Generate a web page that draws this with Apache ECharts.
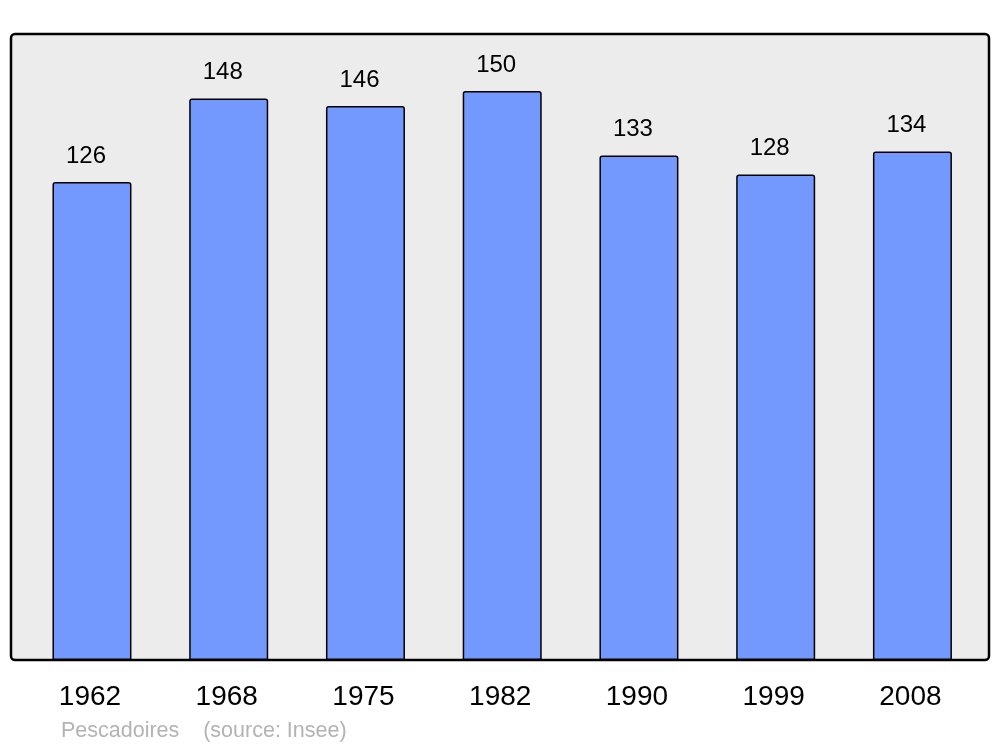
<!DOCTYPE html>
<html>
<head>
<meta charset="utf-8">
<script src="https://cdn.jsdelivr.net/npm/echarts@6/dist/echarts.min.js"></script>
<style>
html,body{margin:0;padding:0;background:#fff;}
#chart{width:1000px;height:747px;}
</style>
</head>
<body>
<div id="chart"></div>
<script>
const categories = ['1962', '1968', '1975', '1982', '1990', '1999', '2008'];
const population = [126, 148, 146, 150, 133, 128, 134];
const footerText = 'Pescadoires    (source: Insee)';

const chart = echarts.init(document.getElementById('chart'));
const FONT = '"Liberation Sans", Arial, sans-serif';

chart.setOption({
  animation: false,
  backgroundColor: '#ffffff',
  title: {
    text: footerText,
    left: 61,
    top: 720,
    padding: 0,
    textStyle: { fontFamily: FONT, fontSize: 21.5, fontWeight: 'normal', color: '#b3b3b3' }
  },
  graphic: [{
    type: 'rect',
    z: 0,
    shape: { x: 11, y: 34, width: 978, height: 626, r: 4 },
    style: { fill: '#ececec', stroke: '#000000', lineWidth: 2.5 }
  }],
  grid: { left: 23.6, right: 19.2, top: 34, bottom: 87, containLabel: false },
  xAxis: {
    type: 'category',
    data: categories,
    axisLine: { show: false },
    axisTick: { show: false },
    axisLabel: { fontFamily: FONT, fontSize: 28, color: '#000', margin: 23, padding: [0, 4, 0, 0] }
  },
  yAxis: {
    type: 'value',
    min: 0,
    max: 165,
    show: false,
    splitLine: { show: false }
  },
  series: [{
    type: 'bar',
    data: population,
    barWidth: 79,
    z: 2,
    itemStyle: { color: '#7399ff', borderColor: '#000000', borderWidth: 1.5, borderRadius: [2, 2, 0, 0] },
    label: {
      show: true,
      position: 'top',
      distance: 14,
      offset: [-6, 0],
      fontFamily: FONT,
      fontSize: 24,
      color: '#000'
    }
  }]
});
</script>
</body>
</html>
